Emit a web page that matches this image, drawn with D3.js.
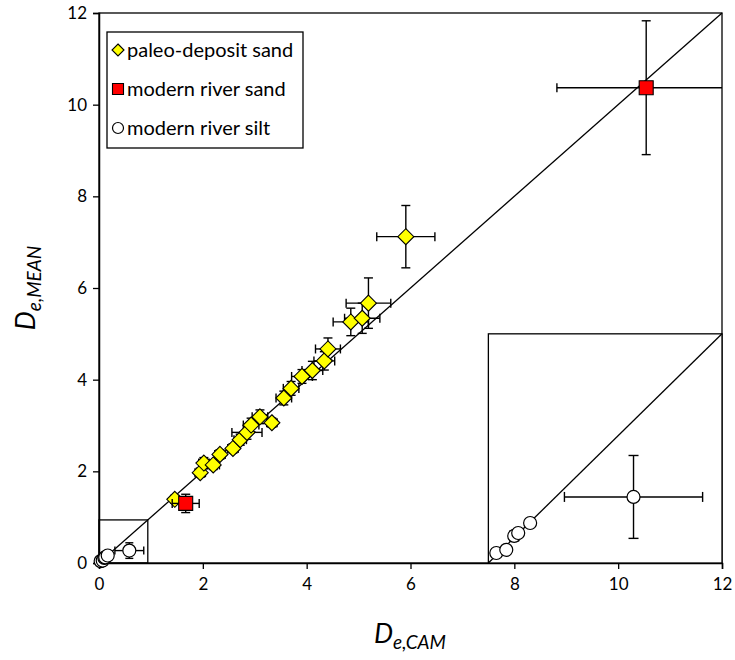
<!DOCTYPE html>
<html>
<head>
<meta charset="utf-8">
<script src="https://cdn.jsdelivr.net/npm/d3@7"></script>
<style>
  body { margin: 0; background: #fff; }
  text { font-family: Lato, "Open Sans", sans-serif; }
</style>
</head>
<body>
<div id="chart"></div>
<script>
// values

// paleo-deposit sand (yellow diamonds)
const paleoX    = [1.46, 1.95, 2.02, 2.20, 2.33, 2.58, 2.72, 2.85, 2.93, 3.10, 3.33, 3.56, 3.70, 3.91, 4.11, 4.34, 4.41, 4.85, 5.07, 5.19, 5.91];
const paleoY    = [1.39, 1.97, 2.18, 2.14, 2.37, 2.50, 2.69, 2.85, 3.01, 3.19, 3.06, 3.60, 3.81, 4.07, 4.20, 4.41, 4.67, 5.26, 5.34, 5.67, 7.12];
const paleoXErr = [0.08, 0.10, 0.10, 0.12, 0.10, 0.10, 0.12, 0.29, 0.15, 0.15, 0.10, 0.15, 0.15, 0.20, 0.20, 0.20, 0.24, 0.34, 0.34, 0.43, 0.56];
const paleoYErr = [0.08, 0.10, 0.12, 0.10, 0.10, 0.10, 0.12, 0.15, 0.15, 0.15, 0.10, 0.15, 0.15, 0.15, 0.20, 0.20, 0.24, 0.30, 0.33, 0.55, 0.68];

// modern river sand (red squares)
const sandX    = [1.67, 10.54];
const sandY    = [1.30, 10.37];
const sandXErr = [0.26, 1.72];
const sandYErr = [0.20, 1.46];

// modern river silt (white circles)
const siltX    = [0.032, 0.072, 0.104, 0.120, 0.168, 0.584];
const siltY    = [0.041, 0.054, 0.111, 0.123, 0.164, 0.271];
const siltXErr = [0.01, 0.01, 0.015, 0.01, 0.01, 0.278];
const siltYErr = [0.01, 0.01, 0.02, 0.01, 0.01, 0.17];

const ticks = [0, 2, 4, 6, 8, 10, 12];
const legendLabels = ["paleo-deposit sand", "modern river sand", "modern river silt"];

// zoom box in the main plot and where it is blown up
const zoomMax = 0.94;
const insetX = [7.5, 12], insetY = [0, 5];

const zip = (xs, ys, xe, ye) => xs.map((v, i) => ({x: v, y: ys[i], xe: xe[i], ye: ye[i]}));
const paleo = zip(paleoX, paleoY, paleoXErr, paleoYErr);
const sand = zip(sandX, sandY, sandXErr, sandYErr);
const silt = zip(siltX, siltY, siltXErr, siltYErr);

const width = 735, height = 660;
const pLeft = 99, pRight = 722, pTop = 13, pBottom = 563;

const svg = d3.select("#chart").append("svg")
    .attr("width", width)
    .attr("height", height);

const x = d3.scaleLinear().domain([0, 12]).range([pLeft, pRight]);
const y = d3.scaleLinear().domain([0, 12]).range([pBottom, pTop]);

// clip for error bars that run past the frame
svg.append("clipPath").attr("id", "plotClip")
    .append("rect")
    .attr("x", pLeft).attr("y", pTop)
    .attr("width", pRight - pLeft).attr("height", pBottom - pTop);

// frame
svg.append("rect")
    .attr("x", pLeft).attr("y", pTop)
    .attr("width", pRight - pLeft).attr("height", pBottom - pTop)
    .attr("fill", "none").attr("stroke", "#000").attr("stroke-width", 1.3);

// axes
const xAxis = svg.append("g")
    .attr("transform", `translate(0,${pBottom})`)
    .call(d3.axisBottom(x).tickValues(ticks).tickSize(6).tickPadding(9));
const yAxis = svg.append("g")
    .attr("transform", `translate(${pLeft},0)`)
    .call(d3.axisLeft(y).tickValues(ticks).tickSize(6).tickPadding(6));
[xAxis, yAxis].forEach(a => {
    a.select(".domain").attr("stroke-width", 1.5);
    a.selectAll(".tick line").attr("stroke-width", 1.3);
    a.selectAll("text").style("font-size", "17px").attr("fill", "#000");
});

// 1:1 line
svg.append("line")
    .attr("x1", x(0)).attr("y1", y(0))
    .attr("x2", x(12)).attr("y2", y(12))
    .attr("stroke", "#000").attr("stroke-width", 1.3);

// small zoom box near the origin
svg.append("rect")
    .attr("x", x(0)).attr("y", y(zoomMax))
    .attr("width", x(zoomMax) - x(0)).attr("height", y(0) - y(zoomMax))
    .attr("fill", "none").attr("stroke", "#000").attr("stroke-width", 1.3);

// inset box and its own scales
svg.append("rect")
    .attr("x", x(insetX[0])).attr("y", y(insetY[1]))
    .attr("width", x(insetX[1]) - x(insetX[0])).attr("height", y(insetY[0]) - y(insetY[1]))
    .attr("fill", "#fff").attr("stroke", "#000").attr("stroke-width", 1.3);

const xi = d3.scaleLinear().domain([0, zoomMax]).range([x(insetX[0]), x(insetX[1])]);
const yi = d3.scaleLinear().domain([0, zoomMax]).range([y(insetY[0]), y(insetY[1])]);

// error bars with caps
function errorBars(g, data, sx, sy, cap) {
    data.forEach(d => {
        const cx = sx(d.x), cy = sy(d.y);
        const x0 = sx(d.x - d.xe), x1 = sx(d.x + d.xe);
        const y0 = sy(d.y - d.ye), y1 = sy(d.y + d.ye);
        const segs = [
            [x0, cy, x1, cy], [x0, cy - cap, x0, cy + cap], [x1, cy - cap, x1, cy + cap],
            [cx, y0, cx, y1], [cx - cap, y0, cx + cap, y0], [cx - cap, y1, cx + cap, y1]
        ];
        segs.forEach(s => g.append("line")
            .attr("x1", s[0]).attr("y1", s[1]).attr("x2", s[2]).attr("y2", s[3])
            .attr("stroke", "#000").attr("stroke-width", 1.4));
    });
}

const diamond = r => `M0,${-r}L${r},0L0,${r}L${-r},0Z`;
const square = r => `M${-r},${-r}H${r}V${r}H${-r}Z`;

function drawSeries(g, data, sx, sy, kind) {
    if (kind === "circle") {
        g.selectAll(null).data(data).enter().append("circle")
            .attr("cx", d => sx(d.x)).attr("cy", d => sy(d.y)).attr("r", 6.5)
            .attr("fill", "#fff").attr("stroke", "#000").attr("stroke-width", 1.2);
    } else {
        g.selectAll(null).data(data).enter().append("path")
            .attr("transform", d => `translate(${sx(d.x)},${sy(d.y)})`)
            .attr("d", kind === "diamond" ? diamond(8) : square(7))
            .attr("fill", kind === "diamond" ? "#ffff00" : "#ff0000")
            .attr("stroke", "#000").attr("stroke-width", 1.1);
    }
}

// main series
const plot = svg.append("g");
const barsMain = plot.append("g").attr("clip-path", "url(#plotClip)");
errorBars(barsMain, paleo, x, y, 4.5);
drawSeries(plot.append("g"), paleo, x, y, "diamond");
const barsSand = plot.append("g").attr("clip-path", "url(#plotClip)");
errorBars(barsSand, sand, x, y, 4.5);
drawSeries(plot.append("g"), sand, x, y, "square");
errorBars(plot.append("g"), silt, x, y, 4);
drawSeries(plot.append("g"), silt, x, y, "circle");

// inset contents
const inset = svg.append("g");
inset.append("line")
    .attr("x1", xi(0)).attr("y1", yi(0))
    .attr("x2", xi(zoomMax)).attr("y2", yi(zoomMax))
    .attr("stroke", "#000").attr("stroke-width", 1.3);
errorBars(inset.append("g"), silt, xi, yi, 5);
drawSeries(inset.append("g"), silt, xi, yi, "circle");

// legend
const lg = svg.append("g").attr("transform", "translate(107,32)");
lg.append("rect")
    .attr("width", 196).attr("height", 116)
    .attr("fill", "#fff").attr("stroke", "#000").attr("stroke-width", 1.3);
const kinds = ["diamond", "square", "circle"];
legendLabels.forEach((lab, i) => {
    const row = lg.append("g").attr("transform", `translate(11,${18 + i * 39})`);
    if (kinds[i] === "circle") {
        row.append("circle").attr("r", 5.5)
            .attr("fill", "#fff").attr("stroke", "#000").attr("stroke-width", 1.2);
    } else {
        row.append("path")
            .attr("d", kinds[i] === "diamond" ? diamond(6) : square(5.5))
            .attr("fill", kinds[i] === "diamond" ? "#ffff00" : "#ff0000")
            .attr("stroke", "#000").attr("stroke-width", 1.1);
    }
    row.append("text").attr("x", 9).attr("dy", "0.35em")
        .style("font-size", "20px").text(lab);
});

// axis titles
const xt = svg.append("text")
    .attr("x", 410).attr("y", 643)
    .attr("text-anchor", "middle")
    .style("font-style", "italic");
xt.append("tspan").style("font-size", "27px").text("D");
xt.append("tspan").style("font-size", "19px").attr("dy", 6).text("e,CAM");

const yt = svg.append("text")
    .attr("transform", "translate(35,288) rotate(-90)")
    .attr("text-anchor", "middle")
    .style("font-style", "italic");
yt.append("tspan").style("font-size", "27px").text("D");
yt.append("tspan").style("font-size", "19px").attr("dy", 6).text("e,MEAN");
</script>
</body>
</html>
